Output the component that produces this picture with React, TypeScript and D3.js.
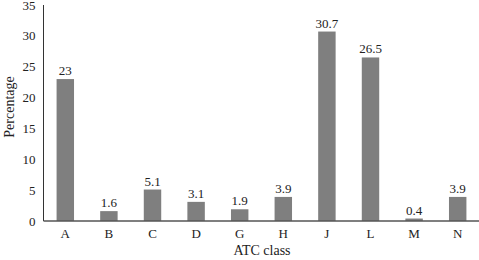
import React from "react";
import * as d3 from "d3";

const categories = ["A", "B", "C", "D", "G", "H", "J", "L", "M", "N"];
const values = [23, 1.6, 5.1, 3.1, 1.9, 3.9, 30.7, 26.5, 0.4, 3.9];
const valueLabels = ["23", "1.6", "5.1", "3.1", "1.9", "3.9", "30.7", "26.5", "0.4", "3.9"];
const yTicks = [0, 5, 10, 15, 20, 25, 30, 35];

const W = 479;
const H = 260;
const left = 43.5;
const right = 479.5;
const top = 5;
const bottom = 221;
const font = "'Liberation Serif', 'DejaVu Serif', serif";

export default function App() {
  const x = d3.scaleBand<string>().domain(categories).range([left, right]).paddingInner(0.6).paddingOuter(0.3);
  const y = d3.scaleLinear().domain([0, 35]).range([bottom, top]);
  const bw = x.bandwidth();
  return (
    <svg width={W} height={H} style={{ position: "absolute", left: 0, top: 0 }} fontFamily={font}>
      <rect width={W} height={H} fill="#fff" />
      {categories.map((c, i) => (
        <g key={c}>
          <rect x={x(c)} y={y(values[i])} width={bw} height={bottom - y(values[i])} fill="#7f7f7f" />
          <text x={x(c)! + bw / 2} y={y(values[i]) - 4} textAnchor="middle" fontSize={13} fill="#222">
            {valueLabels[i]}
          </text>
          <text x={x(c)! + bw / 2} y={bottom + 17} textAnchor="middle" fontSize={13} fill="#222">
            {c}
          </text>
        </g>
      ))}
      {yTicks.map((t) => (
        <text key={t} x={left - 8} y={y(t) + 4.5} textAnchor="end" fontSize={13} fill="#222">
          {t}
        </text>
      ))}
      <line x1={left} x2={left} y1={top} y2={bottom} stroke="#333" strokeWidth={1} />
      <line x1={left} x2={W} y1={bottom} y2={bottom} stroke="#555" strokeWidth={1.5} />
      <text transform={`translate(14,107) rotate(-90)`} textAnchor="middle" fontSize={14} fill="#222">
        Percentage
      </text>
      <text x={262} y={255} textAnchor="middle" fontSize={14} fill="#222">
        ATC class
      </text>
    </svg>
  );
}
